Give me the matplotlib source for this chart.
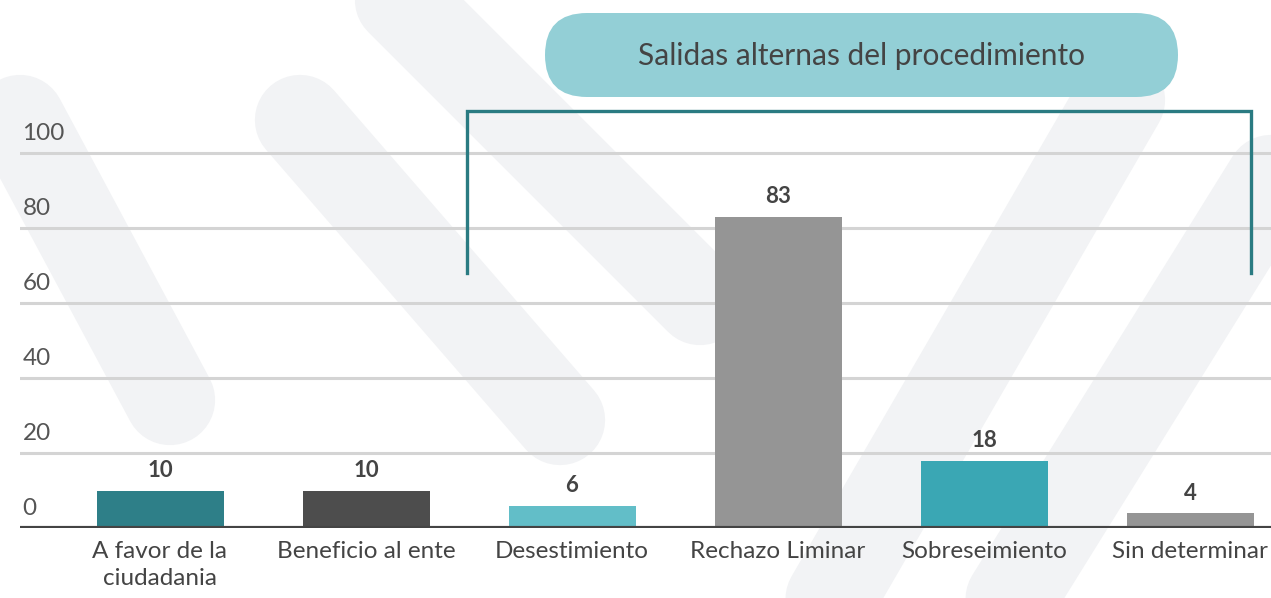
import matplotlib
matplotlib.use("Agg")
import matplotlib.pyplot as plt
from matplotlib.patches import FancyBboxPatch

plt.rcParams['font.family'] = ['Lato', 'DejaVu Sans']

categorias = ['A favor de la\nciudadania', 'Beneficio al ente', 'Desestimiento',
              'Rechazo Liminar', 'Sobreseimiento', 'Sin determinar']
valores = [10, 10, 6, 83, 18, 4]
colores = ['#2e7f88', '#4d4d4d', '#62bec8', '#959595', '#3aa7b4', '#959595']
ticks_y = [0, 20, 40, 60, 80, 100]
titulo_grupo = 'Salidas alternas del procedimiento'

W, H = 1271, 598
fig = plt.figure(figsize=(W / 100, H / 100), dpi=100)
fig.patch.set_facecolor('white')

# background overlay in pixel units (faint watermark stripes + title pill)
bg = fig.add_axes([0, 0, 1, 1], zorder=0)
bg.set_xlim(0, W)
bg.set_ylim(H, 0)
bg.axis('off')
franjas = [((20, 120), (170, 400)), ((300, 120), (560, 420)), ((400, 0), (700, 300)),
           ((830, 600), (1120, 100)), ((1010, 600), (1271, 180))]
for (xa, ya), (xb, yb) in franjas:
    bg.plot([xa, xb], [ya, yb], color='#f2f3f5', lw=65, solid_capstyle='round', zorder=0)

pill = FancyBboxPatch((545, 13), 1178 - 545, 84,
                      boxstyle='round,pad=0,rounding_size=42',
                      facecolor='#93cfd6', edgecolor='none', zorder=2)
bg.add_patch(pill)
bg.text(861, 56, titulo_grupo, ha='center', va='center',
        fontsize=21.5, color='#444444', zorder=3)

# chart axes: x from px 20 to right edge, y from px 528 (zero) to top
ax = fig.add_axes([20 / W, (H - 528) / H, 1 - 20 / W, 528 / H], zorder=1)
ax.set_facecolor('none')
paso = 206.0
ax.set_xlim((20 - 160) / paso, (W - 160) / paso)
ax.set_ylim(0, 528 / 3.75)

x = list(range(len(categorias)))
ax.bar(x, valores, width=127 / paso, color=colores, zorder=3)

for xi, v in zip(x, valores):
    ax.text(xi, v + 2.5, str(v), ha='center', va='bottom', fontsize=16,
            fontweight='bold', color='#444444', zorder=4)

for t in ticks_y:
    if t > 0:
        ax.axhline(t, color='#d4d4d4', lw=2.2, zorder=1)
    ax.text(0.002, t + 2.3, str(t), transform=ax.get_yaxis_transform(),
            ha='left', va='bottom', fontsize=17.5, color='#555555')

ax.axhline(0, color='#444444', lw=3, zorder=5)

for xi, c in zip(x, categorias):
    ax.text(xi, -3.5, c, ha='center', va='top', fontsize=17.5, color='#444444',
            linespacing=1.35, clip_on=False)

# bracket over the alternate outputs (Desestimiento .. Sin determinar)
yb, yl = (528 - 111) / 3.75, (528 - 273) / 3.75
x0, x1 = (467 - 160) / paso, (1251 - 160) / paso
ax.plot([x0, x0, x1, x1], [yl, yb, yb, yl], color='#2a7b82', lw=2.4,
        solid_joinstyle='miter', zorder=4, clip_on=False)

ax.set_xticks([])
ax.set_yticks([])
for s in ax.spines.values():
    s.set_visible(False)

fig.savefig('out.png', dpi=100)
